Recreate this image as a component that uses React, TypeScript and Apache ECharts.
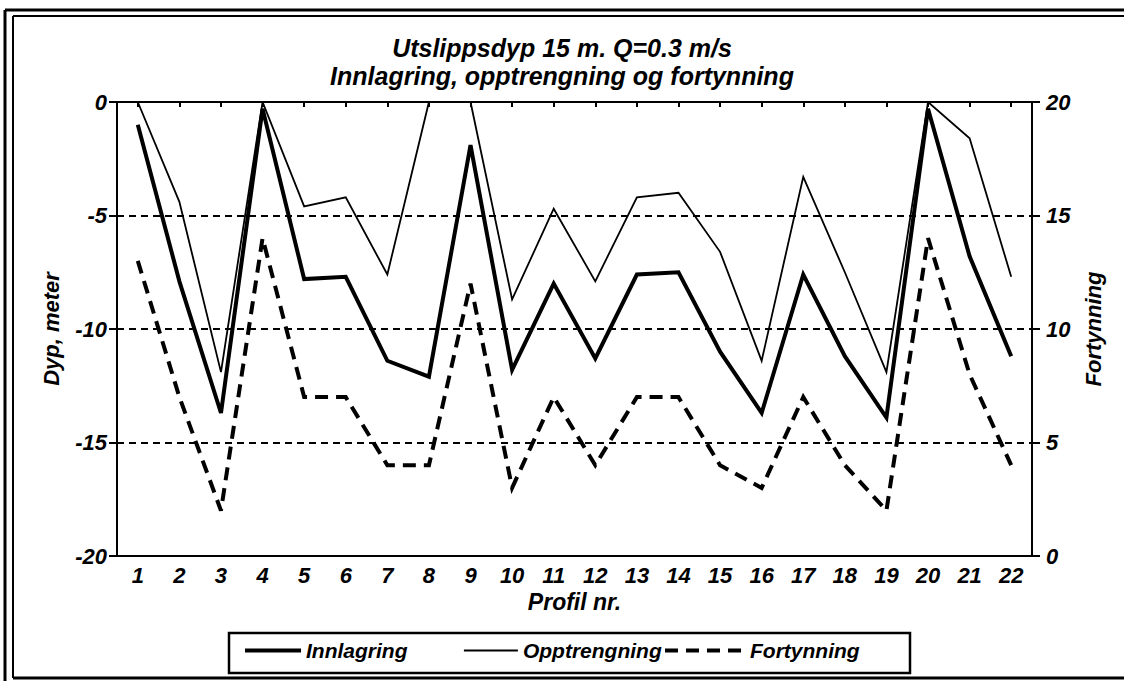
import React, { useEffect, useRef } from "react";
import * as echarts from "echarts";

const profiles = ["1","2","3","4","5","6","7","8","9","10","11","12","13","14","15","16","17","18","19","20","21","22"];
const innlagring = [-1.0, -7.9, -13.7, -0.3, -7.8, -7.7, -11.4, -12.1, -1.9, -11.8, -8.0, -11.3, -7.6, -7.5, -11.0, -13.7, -7.6, -11.2, -13.9, -0.3, -6.8, -11.2];
const opptrengning = [0, -4.4, -11.9, 0, -4.6, -4.2, -7.6, 0, 0, -8.7, -4.7, -7.9, -4.2, -4.0, -6.6, -11.4, -3.3, -7.5, -11.9, 0, -1.6, -7.7];
const fortynning = [13, 7, 2, 14, 7, 7, 4, 4, 12, 3, 7, 4, 7, 7, 4, 3, 7, 4, 2, 14, 8, 4];
const leftTicks = { min: -20, max: 0, interval: 5 };
const rightTicks = { min: 0, max: 20, interval: 5 };

const FONT = "'Liberation Sans', Arial, sans-serif";
const txt = (size: number) => ({
  fontFamily: FONT,
  fontWeight: "bold" as const,
  fontStyle: "italic" as const,
  fontSize: size,
  color: "#000",
});

export default function App() {
  const ref = useRef<HTMLDivElement>(null);
  useEffect(() => {
    if (!ref.current) return;
    const chart = echarts.init(ref.current, null, { renderer: "svg" });
    const legendBase = {
      orient: "horizontal" as const,
      top: 640,
      padding: 0,
      itemHeight: 14,
      selectedMode: false,
      itemStyle: { opacity: 0, borderWidth: 0, color: "transparent" },
      textStyle: txt(21),
    };
    chart.setOption({
      animation: false,
      backgroundColor: "#fff",
      title: {
        text: "Utslippsdyp 15 m. Q=0.3 m/s\nInnlagring, opptrengning og fortynning",
        left: "center",
        top: 29,
        textStyle: { ...txt(25), lineHeight: 28 },
      },
      legend: [
        { ...legendBase, data: ["Innlagring"], left: 243, itemWidth: 56, lineStyle: { width: 4, color: "#000" } },
        { ...legendBase, data: ["Opptrengning"], left: 463, itemWidth: 54, lineStyle: { width: 1.8, color: "#000" } },
        { ...legendBase, data: ["Fortynning"], left: 663, itemWidth: 80, lineStyle: { width: 4, color: "#000", type: [13, 8] } },
      ],
      grid: {
        left: 117,
        right: 92,
        top: 102,
        bottom: 125,
        show: true,
        borderColor: "#000",
        borderWidth: 2,
        backgroundColor: "transparent",
      },
      xAxis: {
        type: "category",
        data: profiles,
        boundaryGap: true,
        name: "Profil nr.",
        nameLocation: "middle",
        nameGap: 31,
        nameTextStyle: txt(23),
        axisLine: { show: true, lineStyle: { color: "#000", width: 2 } },
        axisTick: { show: true, alignWithLabel: true, length: 5, lineStyle: { color: "#000", width: 2 } },
        axisLabel: { ...txt(22), margin: 8, interval: 0 },
        splitLine: { show: false },
      },
      yAxis: [
        {
          type: "value",
          position: "left",
          min: leftTicks.min,
          max: leftTicks.max,
          interval: leftTicks.interval,
          name: "Dyp, meter",
          nameLocation: "middle",
          nameRotate: 90,
          nameGap: 55,
          nameTextStyle: txt(22),
          axisLine: { show: true, lineStyle: { color: "#000", width: 2 } },
          axisTick: { show: true, length: 8, lineStyle: { color: "#000", width: 2 } },
          axisLabel: { ...txt(22), margin: 10 },
          splitLine: { show: true, lineStyle: { color: "#000", width: 2, type: [7, 5] } },
        },
        {
          type: "value",
          position: "right",
          min: rightTicks.min,
          max: rightTicks.max,
          interval: rightTicks.interval,
          name: "Fortynning",
          nameLocation: "middle",
          nameRotate: 90,
          nameGap: 50,
          nameTextStyle: txt(22),
          axisLine: { show: true, lineStyle: { color: "#000", width: 2 } },
          axisTick: { show: true, length: 8, lineStyle: { color: "#000", width: 2 } },
          axisLabel: { ...txt(22), margin: 14 },
          splitLine: { show: false },
        },
      ],
      series: [
        {
          name: "Innlagring",
          type: "line",
          yAxisIndex: 0,
          data: innlagring,
          symbol: "none",
          color: "#000",
          lineStyle: { color: "#000", width: 4, join: "miter", miterLimit: 10 },
        },
        {
          name: "Opptrengning",
          type: "line",
          yAxisIndex: 0,
          data: opptrengning,
          symbol: "none",
          color: "#000",
          lineStyle: { color: "#000", width: 1.8, join: "miter", miterLimit: 10 },
        },
        {
          name: "Fortynning",
          type: "line",
          yAxisIndex: 1,
          data: fortynning,
          symbol: "none",
          color: "#000",
          lineStyle: { color: "#000", width: 4, type: [13, 8], join: "miter", miterLimit: 10 },
        },
      ],
      graphic: [
        {
          type: "rect",
          shape: { x: 229, y: 633, width: 681, height: 40 },
          style: { fill: "none", stroke: "#000", lineWidth: 2.5 },
          silent: true,
        },
        { type: "line", shape: { x1: 5, y1: 10, x2: 5, y2: 681 }, style: { stroke: "#000", lineWidth: 3 }, silent: true },
        { type: "line", shape: { x1: 5, y1: 10, x2: 1124, y2: 10 }, style: { stroke: "#000", lineWidth: 3 }, silent: true },
        { type: "line", shape: { x1: 13, y1: 16, x2: 13, y2: 678 }, style: { stroke: "#000", lineWidth: 2 }, silent: true },
        { type: "line", shape: { x1: 13, y1: 16, x2: 1124, y2: 16 }, style: { stroke: "#000", lineWidth: 2 }, silent: true },
        { type: "line", shape: { x1: 13, y1: 678, x2: 1124, y2: 678 }, style: { stroke: "#000", lineWidth: 3 }, silent: true },
      ],
    });
    return () => chart.dispose();
  }, []);
  return (
    <div
      ref={ref}
      style={{ position: "fixed", left: 0, top: 0, width: 1124, height: 681, background: "#fff" }}
    />
  );
}
